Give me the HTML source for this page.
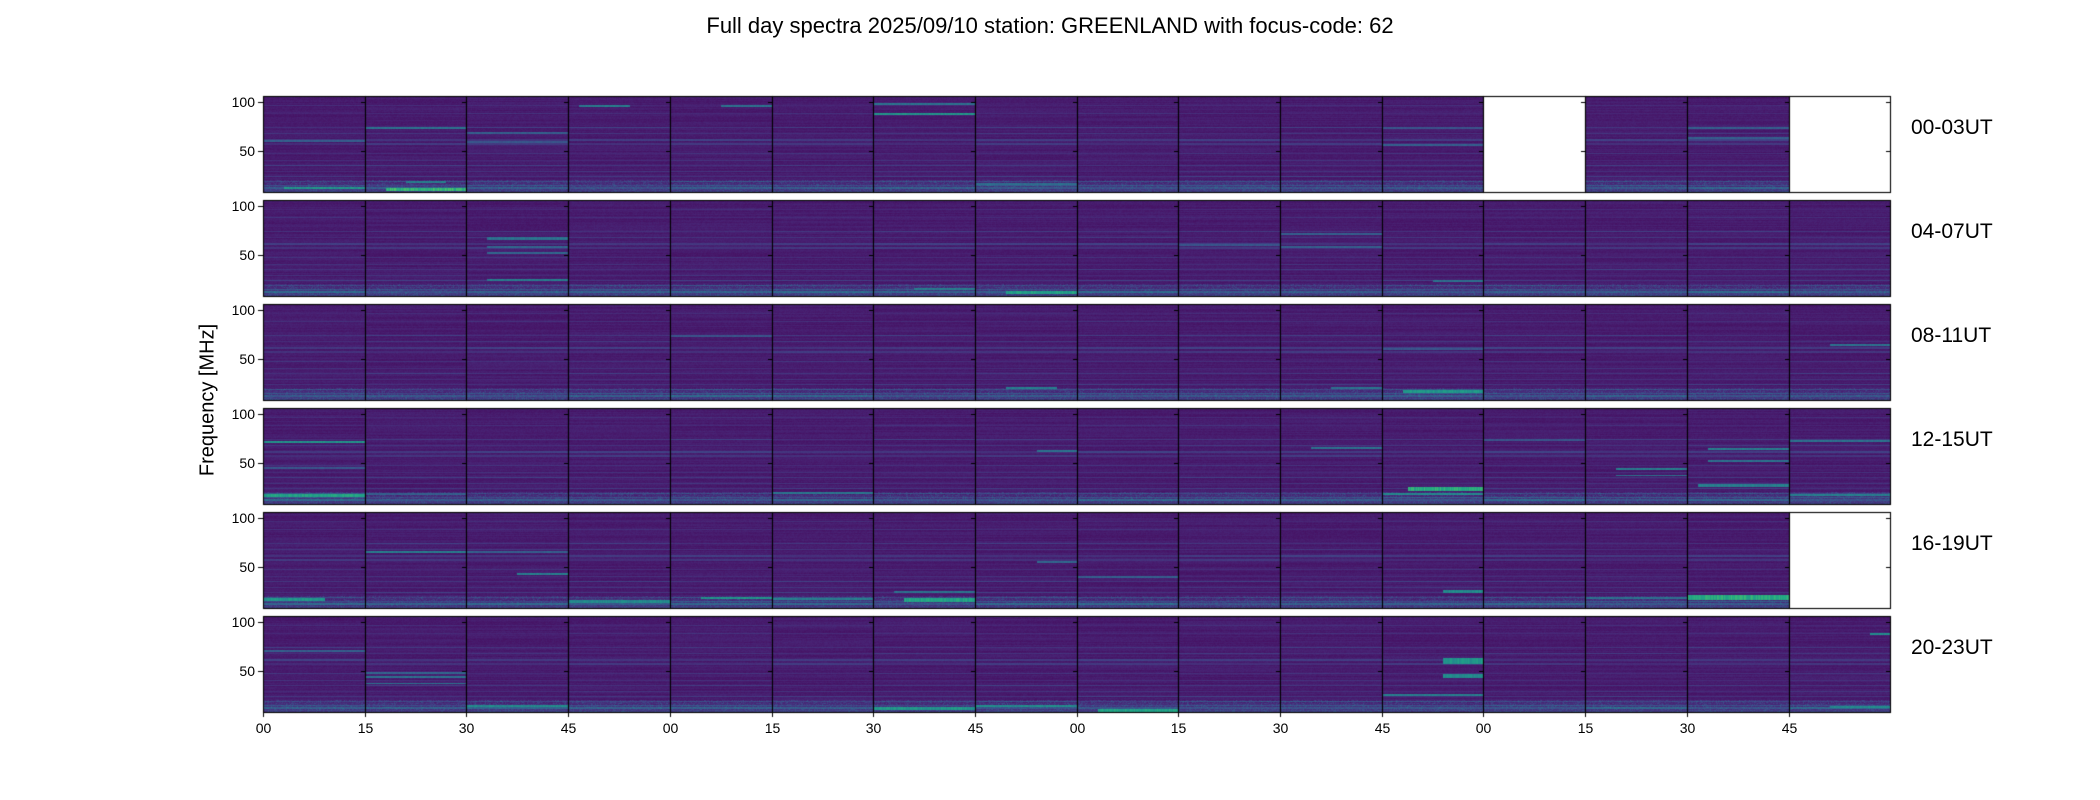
<!DOCTYPE html>
<html><head><meta charset="utf-8">
<style>
body{margin:0;background:#fff;width:2100px;height:800px;overflow:hidden;font-family:"Liberation Sans",sans-serif;}
#root{position:relative;width:2100px;height:800px;}
.t{position:absolute;color:#000;white-space:nowrap;}
canvas{position:absolute;left:0;top:0;}
</style></head>
<body>
<div id="root">
<div class="t" style="left:0;width:2100px;text-align:center;top:13px;font-size:22px;">Full day spectra 2025/09/10 station: GREENLAND with focus-code: 62</div>
<div class="t" style="left:208px;top:400px;font-size:20px;transform:translate(-50%,-50%) rotate(-90deg);">Frequency [MHz]</div>
<canvas id="cv" width="2100" height="800"></canvas>
</div>
<script>
// ---- data ----
const rowLabels = ["00-03UT","04-07UT","08-11UT","12-15UT","16-19UT","20-23UT"];
const xTickLabels = ["00","15","30","45","00","15","30","45","00","15","30","45","00","15","30","45"];
const yTicks = [50,100];
const yRange = [8,106];
// panels with no data: [row, col]
const missingPanels = [[0,12],[0,15],[4,15]];
// constant narrowband lines (frequency MHz, level 0..1)
const commonLines = [[96,0.12],[88,0.13],[74,0.17],[68,0.15],[61,0.17],[57,0.15],[47,0.14],[40,0.13],[35,0.17],[29,0.14],[24,0.17],[19,0.2],[15,0.22],[12,0.26]];
// per-panel features: [row, col, freq, level, tStart, tEnd, width]
const features = [
[0,0,60,0.32,0,1,1],[0,0,12,0.55,0.2,1,1],[0,1,73,0.4,0,1,1],[0,1,11,0.7,0.2,1,2],[0,1,18,0.45,0.4,0.8,1],
[0,2,68,0.32,0,1,1],[0,2,59,0.28,0,1,1],[0,3,96,0.45,0.1,0.6,1],[0,4,96,0.4,0.5,1,1],[0,6,88,0.55,0,1,1],[0,6,98,0.4,0,1,1],
[0,11,73,0.28,0,1,1],[0,11,56,0.32,0,1,1],[0,14,73,0.32,0,1,1],[0,14,63,0.32,0,1,1],[0,7,16,0.38,0,1,1],
[1,2,67,0.4,0.2,1,2],[1,2,58,0.35,0.2,1,1],[1,2,52,0.35,0.2,1,1],[1,2,24,0.45,0.2,1,1],[1,7,12,0.6,0.3,1,2],[1,6,15,0.45,0.4,1,1],
[1,10,71,0.32,0,1,1],[1,10,58,0.32,0,1,1],[1,11,23,0.4,0.5,1,1],[1,9,60,0.28,0,1,1],
[2,7,20,0.45,0.3,0.8,1],[2,11,17,0.55,0.2,1,2],[2,11,60,0.28,0,1,1],[2,15,64,0.4,0.4,1,1],[2,10,20,0.4,0.5,1,1],[2,4,73,0.28,0,1,1],
[3,0,71,0.55,0,1,1],[3,0,17,0.6,0,1,2],[3,0,45,0.28,0,1,1],[3,1,18,0.32,0,1,1],[3,5,19,0.42,0,1,1],[3,7,62,0.4,0.6,1,1],
[3,10,65,0.4,0.3,1,1],[3,11,23,0.65,0.25,1,3],[3,11,18,0.5,0,1,1],[3,12,73,0.28,0,1,1],[3,13,44,0.45,0.3,1,1],[3,13,37,0.4,0.3,1,1],
[3,14,64,0.45,0.2,1,1],[3,14,52,0.4,0.2,1,1],[3,14,27,0.45,0.1,1,2],[3,15,72,0.4,0,1,1],[3,15,17,0.45,0,1,1],
[4,0,17,0.55,0,0.6,2],[4,1,65,0.45,0,1,1],[4,2,43,0.45,0.5,1,1],[4,2,65,0.32,0,1,1],[4,3,15,0.5,0,1,2],[4,4,18,0.55,0.3,1,1],
[4,5,17,0.45,0,1,1],[4,6,16,0.6,0.3,1,3],[4,6,24,0.4,0.2,1,1],[4,7,55,0.35,0.6,1,1],[4,8,40,0.32,0,1,1],
[4,11,25,0.5,0.6,1,2],[4,13,18,0.4,0,1,1],[4,14,19,0.65,0,1,4],
[5,0,70,0.32,0,1,1],[5,1,44,0.4,0,1,1],[5,1,37,0.4,0,1,1],[5,1,48,0.35,0,1,1],[5,2,14,0.5,0,1,1],[5,6,12,0.55,0,1,2],
[5,7,14,0.5,0,1,1],[5,8,10,0.6,0.2,1,2],[5,11,60,0.55,0.6,1,4],[5,11,45,0.5,0.6,1,3],[5,11,25,0.45,0,1,1],[5,15,88,0.5,0.8,1,1],[5,15,13,0.5,0.4,1,1]
];
// ---- layout ----
const L=263, T=96, PW=101.7, PH=96, PITCH=104, NC=16, NR=6;
const cv=document.getElementById('cv'), ctx=cv.getContext('2d');
function yPix(f,r){return T+r*PITCH+PH-(f-yRange[0])/(yRange[1]-yRange[0])*PH;}
function xPix(c){return L+c*PW;}
const vir=[[68,1,84],[72,36,117],[65,68,135],[53,95,141],[42,120,142],[33,145,140],[34,168,132],[68,191,112],[122,209,81],[189,223,38],[253,231,37]];
function cmap(v){v=Math.max(0,Math.min(1,v))*10;const i=Math.min(9,Math.floor(v)),f=v-i,a=vir[i],b=vir[i+1];
return [a[0]+(b[0]-a[0])*f,a[1]+(b[1]-a[1])*f,a[2]+(b[2]-a[2])*f];}
function hash(a,b,c){let h=(a*374761393+b*668265263+c*2147483647)|0;h=(h^(h>>>13))*1274126177;h=h^(h>>>16);return ((h>>>0)%1000)/1000;}
const isMissing=(r,c)=>missingPanels.some(p=>p[0]===r&&p[1]===c);
for(let r=0;r<NR;r++){for(let c=0;c<NC;c++){
  const x0=Math.round(xPix(c)),x1=Math.round(xPix(c+1)),y0=T+r*PITCH,y1=y0+PH;
  if(isMissing(r,c)){ctx.fillStyle='#fff';ctx.fillRect(x0,y0,x1-x0,PH);}
  else{
    const img=ctx.createImageData(x1-x0,PH);
    const feats=features.filter(f=>f[0]===r&&f[1]===c);
    for(let py=0;py<PH;py++){
      const f=yRange[1]-(py+0.5)/PH*(yRange[1]-yRange[0]);
      let base=0.06+0.035*hash(r,c,py)+(f<20?0.08*(20-f)/12:0);
      for(const l of commonLines){if(Math.abs(f-l[0])<0.6)base=Math.max(base,l[1]*(0.8+0.4*hash(c,r,l[0])));}
      for(let px=0;px<x1-x0;px++){
        const t=px/(x1-x0);let v=base+0.03*(hash(px,py,r*16+c)-0.5);
        if(f<20)v+=0.15*hash(px*3,py,c)*hash(py,px,r);
        for(const q of feats){if(Math.abs(f-q[2])<=q[6]*0.6+0.3&&t>=q[4]&&t<=q[5])v=Math.max(v,q[3]*(0.85+0.2*hash(px,q[2],c)));}
        const col=cmap(v),k=(py*(x1-x0)+px)*4;
        img.data[k]=col[0];img.data[k+1]=col[1];img.data[k+2]=col[2];img.data[k+3]=255;
      }
    }
    ctx.putImageData(img,x0,y0);
  }
  ctx.strokeStyle='#000';ctx.lineWidth=1.1;ctx.strokeRect(x0+0.5,y0+0.5,x1-x0,PH);
  ctx.lineWidth=1;
  for(const yt of yTicks){const yy=Math.round(yPix(yt,r))+0.5;ctx.beginPath();ctx.moveTo(x1-4,yy);ctx.lineTo(x1,yy);ctx.stroke();}
}
  for(const yt of yTicks){const yy=Math.round(yPix(yt,r))+0.5;ctx.beginPath();ctx.moveTo(L-5,yy);ctx.lineTo(L,yy);ctx.stroke();
    const d=document.createElement('div');d.className='t';d.textContent=yt;
    
    
    d.style.cssText='right:'+(2100-L+8)+'px;top:'+(yy-9)+'px;font-size:14px;';document.getElementById('root').appendChild(d);}
  const lb=document.createElement('div');lb.className='t';lb.textContent=rowLabels[r];
  
  
  lb.style.cssText='left:1911px;top:'+(T+r*PITCH+20)+'px;font-size:21px;';document.getElementById('root').appendChild(lb);
}
for(let c=0;c<NC;c++){const xx=Math.round(xPix(c))+0.5,yb=T+5*PITCH+PH;
  ctx.beginPath();ctx.moveTo(xx,yb);ctx.lineTo(xx,yb+5);ctx.stroke();
  const d=document.createElement('div');d.className='t';d.textContent=xTickLabels[c];
  
  
  d.style.cssText='left:'+xx+'px;top:'+(yb+8)+'px;font-size:14px;transform:translateX(-50%);';document.getElementById('root').appendChild(d);}
</script>
</body></html>
